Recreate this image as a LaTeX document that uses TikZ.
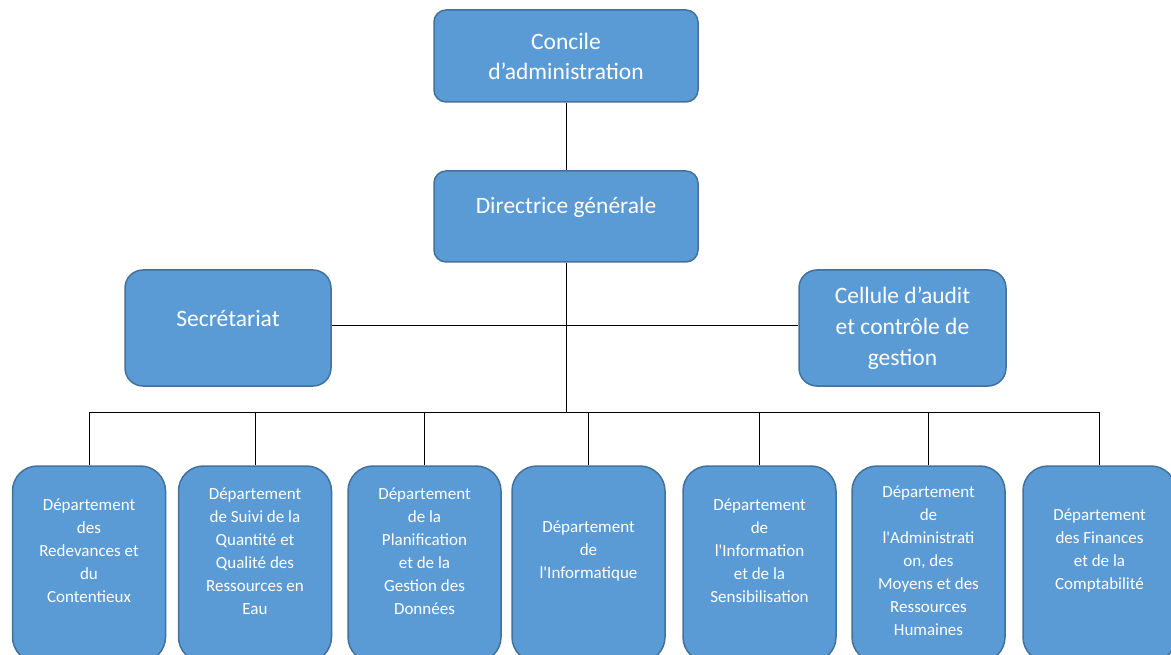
\documentclass[tikz,border=0pt]{standalone}
\usepackage{fontspec}
\setmainfont{Carlito}
\usepackage{tikz}
\definecolor{bleuboite}{RGB}{91,155,213}
\definecolor{bordboite}{RGB}{65,113,156}
\tikzset{
  boite/.style={draw=bordboite, fill=bleuboite, line width=1.5pt, text=white, align=center},
  grand/.style={font=\fontsize{23.5}{30}\selectfont},
  petit/.style={text=white, align=center, font=\fontsize{17}{23}\selectfont},
  lien/.style={draw=black, line width=0.8pt},
}

\begin{document}
\begin{tikzpicture}[x=1pt,y=-1pt]
\useasboundingbox (0,0) rectangle (1171,655);

% Conseil
\node[boite, grand, minimum width=264pt, minimum height=92pt, rounded corners=12pt] (conseil) at (566,56) {Concile\\d’administration};

% Direction
\node[boite, grand, minimum width=264pt, minimum height=91pt, rounded corners=12pt, text height=16pt, text depth=21pt] (directrice) at (566,216.5) {Directrice générale};

% Services rattaches
\node[boite, grand, minimum width=206pt, minimum height=116pt, rounded corners=18pt, text height=16pt, text depth=19pt] (secretariat) at (228,328) {Secrétariat};
\node[boite, font=\fontsize{23.5}{31}\selectfont, minimum width=207pt, minimum height=116pt, rounded corners=18pt] (cellule) at (902.5,328) {Cellule d’audit\\et contrôle de\\gestion};

\coordinate (bus) at (566,412);

\draw[lien] (conseil) -- (directrice);
\draw[lien] (directrice) -- (bus);
\draw[lien] ([yshift=3pt]secretariat.east) -- ([yshift=3pt]cellule.west);

% Departements
\foreach \i/\cx/\ty/\txt in {
  1/89/551/{Département\\des\\Redevances et\\du\\Contentieux},
  2/255/551/{Département\\de Suivi de la\\Quantité et\\Qualité des\\Ressources en\\Eau},
  3/424.5/551/{Département\\de la\\Planification\\et de la\\Gestion des\\Données},
  4/588.5/551/{Département\\de\\l\textquotesingle Informatique},
  5/759.5/551/{Département\\de\\l\textquotesingle Information\\et de la\\Sensibilisation},
  6/928.5/561/{Département\\de\\l\textquotesingle Administrati\\on, des\\Moyens et des\\Ressources\\Humaines},
  7/1099.5/551/{Département\\des Finances\\et de la\\Comptabilité}}
{
  \node[boite, minimum width=153pt, minimum height=196pt, rounded corners=25pt] (dep\i) at (\cx,564) {};
  \node[petit] (dep\i txt) at (\cx,\ty) {\txt};
  \draw[lien] (dep\i.north) -- (dep\i.north |- bus);
}

\draw[lien] (dep1.north |- bus) -- (dep7.north |- bus);

\end{tikzpicture}
\end{document}
